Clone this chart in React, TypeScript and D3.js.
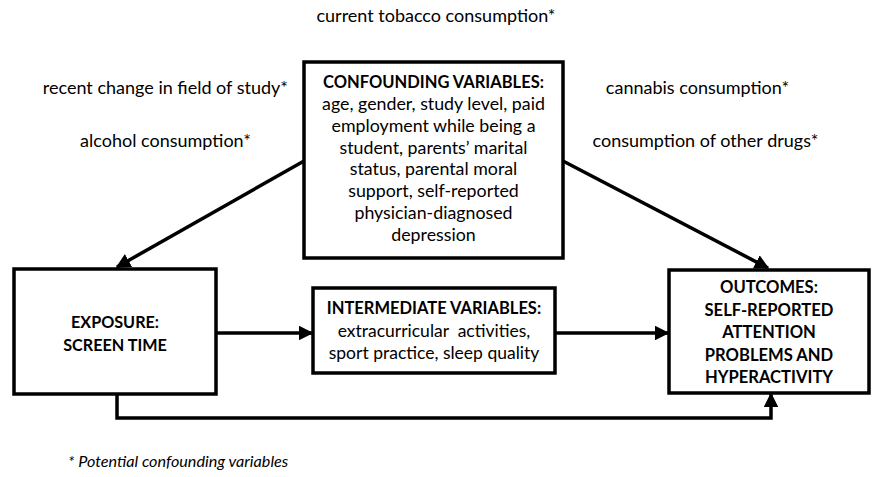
import React from 'react'
import * as d3 from 'd3'

// texts of the diagram
const topNote = 'current tobacco consumption*'
const leftNotes = ['recent change in field of study*', 'alcohol consumption*']
const rightNotes = ['cannabis consumption*', 'consumption of other drugs*']
const confTitle = 'CONFOUNDING VARIABLES:'
const confLines = [
  'age, gender, study level, paid',
  'employment while being a',
  'student, parents\u2019 marital',
  'status, parental moral',
  'support, self-reported',
  'physician-diagnosed',
  'depression',
]
const exposureLines = ['EXPOSURE:', 'SCREEN TIME']
const interTitle = 'INTERMEDIATE VARIABLES:'
const interLines = ['extracurricular  activities,', 'sport practice, sleep quality']
const outcomeLines = ['OUTCOMES:', 'SELF-REPORTED', 'ATTENTION', 'PROBLEMS AND', 'HYPERACTIVITY']
const footnote = '* Potential confounding variables'

const W = 872
const H = 477
const FONT = 'Lato, "Open Sans", sans-serif'

const boxes = {
  conf: { x: 304, y: 62, w: 259, h: 196 },
  expo: { x: 14, y: 269, w: 202, h: 125 },
  inter: { x: 313, y: 288, w: 242, h: 85 },
  out: { x: 669, y: 270, w: 200, h: 123 },
}

const App = () => {
  const line = d3.line()
  const { conf, expo, inter, out } = boxes
  const midY = 333

  const arrows: [number, number][][] = [
    [[conf.x, 161], [expo.x + 103, expo.y - 2]],
    [[conf.x + conf.w, 161], [out.x + 99, out.y - 2]],
    [[expo.x + expo.w, midY], [inter.x - 1, midY]],
    [[inter.x + inter.w, midY], [out.x - 1, midY]],
    [[expo.x + 103, expo.y + expo.h], [expo.x + 103, 418], [out.x + 102, 418], [out.x + 102, out.y + out.h + 1]],
  ]

  const Box = ({ b }: { b: { x: number; y: number; w: number; h: number } }) => (
    <rect x={b.x} y={b.y} width={b.w} height={b.h} fill="#fff" stroke="#000" strokeWidth={3.5} />
  )

  return (
    <svg width={W} height={H} style={{ position: 'absolute', left: 0, top: 0, background: '#fff' }}
      fontFamily={FONT} fill="#000">
      <defs>
        <marker id="arr" viewBox="0 0 10 10" refX={9} refY={5} markerWidth={4.2} markerHeight={4.2}
          markerUnits="strokeWidth" orient="auto">
          <path d="M0,0 L10,5 L0,10 z" fill="#000" />
        </marker>
      </defs>

      <text x={436} y={22} textAnchor="middle" fontSize={18}>{topNote}</text>
      <text x={288} y={94} textAnchor="end" fontSize={18}>{leftNotes[0]}</text>
      <text x={165.5} y={147} textAnchor="middle" fontSize={18}>{leftNotes[1]}</text>
      <text x={697.5} y={94} textAnchor="middle" fontSize={18}>{rightNotes[0]}</text>
      <text x={705.5} y={147} textAnchor="middle" fontSize={18}>{rightNotes[1]}</text>

      {arrows.map((pts, i) => (
        <path key={i} d={line(pts) || ''} fill="none" stroke="#000" strokeWidth={3.5} markerEnd="url(#arr)" />
      ))}

      <Box b={conf} />
      <text x={conf.x + conf.w / 2} y={88} textAnchor="middle" fontSize={16.5} fontWeight="bold">{confTitle}</text>
      {confLines.map((t, i) => (
        <text key={t} x={conf.x + conf.w / 2} y={110 + i * 21.8} textAnchor="middle" fontSize={17.8}>{t}</text>
      ))}

      <Box b={expo} />
      {exposureLines.map((t, i) => (
        <text key={t} x={expo.x + expo.w / 2} y={328 + i * 23} textAnchor="middle" fontSize={16.2} fontWeight="bold">{t}</text>
      ))}

      <Box b={inter} />
      <text x={inter.x + inter.w / 2} y={314} textAnchor="middle" fontSize={16.5} fontWeight="bold">{interTitle}</text>
      {interLines.map((t, i) => (
        <text key={t} x={inter.x + inter.w / 2} y={337 + i * 22} textAnchor="middle" fontSize={17.5} style={{ whiteSpace: 'pre' }}>{t}</text>
      ))}

      <Box b={out} />
      {outcomeLines.map((t, i) => (
        <text key={t} x={out.x + out.w / 2} y={293 + i * 22.5} textAnchor="middle" fontSize={16.6} fontWeight="bold">{t}</text>
      ))}

      <text x={68} y={467} fontSize={16.2} fontStyle="italic">{footnote}</text>
    </svg>
  )
}

export default App
